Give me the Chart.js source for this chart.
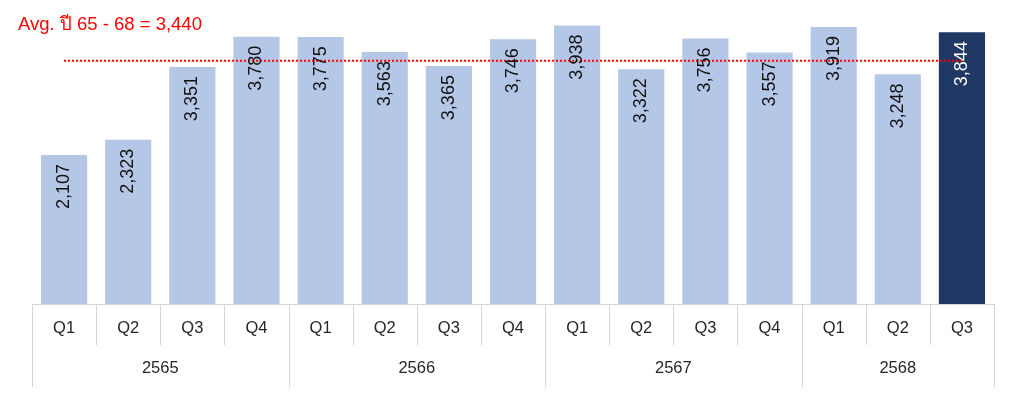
<!DOCTYPE html>
<html><head><meta charset="utf-8">
<script src="https://cdn.jsdelivr.net/npm/chart.js@4"></script>
<style>html,body{margin:0;padding:0;background:#fff}#wrap{width:1024px;height:415px}</style>
</head><body><div id="wrap"><canvas id="c" width="1024" height="415"></canvas></div>
<script>
const quarters = ['Q1','Q2','Q3','Q4','Q1','Q2','Q3','Q4','Q1','Q2','Q3','Q4','Q1','Q2','Q3'];
const years = ['2565','2566','2567','2568'];
const yearSpans = [4,4,4,3];
const values = [2107,2323,3351,3780,3775,3563,3365,3746,3938,3322,3756,3557,3919,3248,3844];
const avgValue = 3440;
const avgLabel = 'Avg. ปี 65 - 68 = 3,440';
const highlightIndex = 14;

const FONT = '"Liberation Sans", Arial, sans-serif';
const lightColor = '#b4c7e7', darkColor = '#203864';

const axisPlugin = {
  id: 'axisPlugin',
  afterDraw(chart) {
    const ctx = chart.ctx, x = chart.scales.x, a = chart.chartArea;
    const half = (x.getPixelForValue(1) - x.getPixelForValue(0)) / 2;
    const bottom = a.bottom;
    ctx.save();
    ctx.strokeStyle = '#d4d4d4'; ctx.lineWidth = 1;
    ctx.beginPath();
    ctx.moveTo(a.left, bottom + 0.5); ctx.lineTo(a.right, bottom + 0.5);
    const yearStarts = []; let s = 0; yearSpans.forEach(n => { yearStarts.push(s); s += n; });
    for (let i = 0; i <= quarters.length; i++) {
      const px = Math.round(x.getPixelForValue(i) - half) + 0.5;
      const isYear = yearStarts.includes(i) || i === quarters.length;
      ctx.moveTo(px, bottom); ctx.lineTo(px, bottom + (isYear ? 83 : 41));
    }
    ctx.stroke();
    ctx.fillStyle = '#262626'; ctx.font = '16.5px ' + FONT;
    ctx.textAlign = 'center'; ctx.textBaseline = 'middle';
    quarters.forEach((q, i) => ctx.fillText(q, x.getPixelForValue(i), bottom + 24));
    years.forEach((yv, k) => {
      const st = yearStarts[k], en = st + yearSpans[k] - 1;
      const cx = (x.getPixelForValue(st) + x.getPixelForValue(en)) / 2;
      ctx.fillText(yv, cx, bottom + 64.5);
    });
    ctx.restore();
  }
};

const labelPlugin = {
  id: 'labelPlugin',
  afterDatasetsDraw(chart) {
    const ctx = chart.ctx, meta = chart.getDatasetMeta(1), y = chart.scales.y;
    ctx.save();
    ctx.font = '18px ' + FONT;
    meta.data.forEach((bar, i) => {
      ctx.save();
      ctx.translate(bar.x, bar.y + 9);
      ctx.rotate(-Math.PI / 2);
      ctx.textAlign = 'right'; ctx.textBaseline = 'middle';
      ctx.fillStyle = i === highlightIndex ? '#ffffff' : '#111111';
      ctx.fillText(values[i].toLocaleString('en-US'), 0, 0);
      ctx.restore();
    });
    ctx.fillStyle = '#ff0000'; ctx.font = '18.5px ' + FONT;
    ctx.textAlign = 'left'; ctx.textBaseline = 'middle';
    ctx.fillText(avgLabel, 18, y.getPixelForValue(avgValue) - 36);
    ctx.restore();
  }
};

new Chart(document.getElementById('c'), {
  type: 'bar',
  data: {
    labels: quarters,
    datasets: [
      {
        type: 'line', data: values.map(() => avgValue), borderColor: '#ff0000',
        borderWidth: 2, borderDash: [2, 2], pointRadius: 0, order: 0, fill: false
      },
      {
        type: 'bar', data: values,
        backgroundColor: values.map((v, i) => i === highlightIndex ? darkColor : lightColor),
        barPercentage: 0.72, categoryPercentage: 1, order: 1
      }
    ]
  },
  options: {
    responsive: false, animation: false,
    layout: { padding: { left: 32, right: 30, top: 0, bottom: 111 } },
    plugins: { legend: { display: false }, tooltip: { enabled: false } },
    scales: {
      x: { display: false, offset: true },
      y: { display: false, min: 0, max: 4300 }
    }
  },
  plugins: [axisPlugin, labelPlugin]
});
</script></body></html>
